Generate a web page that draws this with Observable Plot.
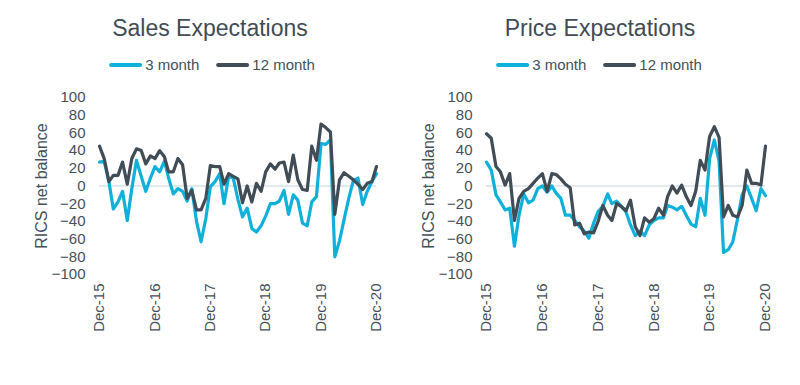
<!DOCTYPE html>
<html>
<head>
<meta charset="utf-8">
<script src="https://cdn.jsdelivr.net/npm/d3@7"></script>
<script src="https://cdn.jsdelivr.net/npm/@observablehq/plot@0.6"></script>
<style>
  html, body { margin: 0; padding: 0; background: #ffffff; }
  #root { position: relative; width: 800px; height: 385px; overflow: hidden; font-family: "Liberation Sans", Arial, sans-serif; color: #44505a; }
  .title { position: absolute; font-size: 23px; line-height: 23px; white-space: nowrap; transform: translateX(-50%); color: #3f4b55; }
  .legend { position: absolute; display: flex; align-items: center; font-size: 15px; line-height: 15px; transform: translateX(-50%); white-space: nowrap; color: #44505a; }
  .sw { display: inline-block; width: 33px; height: 4px; border-radius: 2px; margin-right: 3px; }
  .item { display: flex; align-items: center; }
  .ylabel { position: absolute; font-size: 16px; line-height: 16px; white-space: nowrap; transform: translate(-50%, -50%) rotate(-90deg); color: #44505a; }
  .chart { position: absolute; }
</style>
</head>
<body>
<div id="root"></div>
<script>
// ---- data ----
const seriesNames = ["3 month", "12 month"];
const panelTitles = ["Sales Expectations", "Price Expectations"];
const yAxisLabel = "RICS net balance";
const startMonth = "2015-12";   // first monthly observation (Dec-15)
const endMonth = "2020-12";     // last monthly observation (Dec-20)
const xTickMonths = ["2015-12", "2016-12", "2017-12", "2018-12", "2019-12", "2020-12"];
const yTicks = [-100, -80, -60, -40, -20, 0, 20, 40, 60, 80, 100];

const salesThreeMonth = [27, 28, 5, -26, -18, -6, -39, -3, 29, 11,
  -6, 9, 22, 16, 28, 9, -9, -3, -6, -17,
  -3, -40, -63, -37, -1, 5, 14, -20, 11, 9,
  -15, -35, -25, -48, -52, -45, -34, -20, -20, -17,
  -5, -32, -10, -16, -42, -45, -18, -12, 48, 47,
  52, -80, -62, -38, -14, 6, 9, -21, -6, 5,
  14];
const salesTwelveMonth = [45, 31, 5, 12, 12, 27, 2, 31, 42, 40,
  25, 34, 31, 40, 33, 16, 16, 31, 24, -14,
  -5, -27, -27, -14, 23, 22, 22, 2, 14, 11,
  8, -19, 0, -18, 3, -6, 16, 25, 19, 26,
  27, 5, 35, 7, -4, -5, 45, 29, 70, 66,
  61, -32, 7, 15, 11, 7, 2, -4, 3, 5,
  22];
const priceThreeMonth = [27, 18, -10, -18, -27, -25, -68, -33, -9, -19,
  -16, -3, 0, -7, 0, -8, -14, -33, -33, -39,
  -46, -51, -59, -42, -29, -23, -9, -20, -17, -23,
  -29, -44, -56, -51, -56, -44, -39, -36, -36, -22,
  -24, -27, -23, -33, -43, -46, -14, -33, 31, 52,
  28, -75, -72, -63, -37, -10, 0, -14, -28, -3,
  -11];
const priceTwelveMonth = [59, 54, 22, 16, 1, 14, -39, -14, -6, -3,
  3, 9, 14, -6, 14, 13, 8, 2, -2, -44,
  -42, -54, -52, -53, -40, -22, -33, -39, -20, -23,
  -28, -16, -46, -56, -36, -41, -37, -25, -33, -12,
  0, -8, 1, -12, -22, -6, 29, 18, 56, 67,
  55, -35, -22, -33, -35, -22, 18, 3, 3, 1,
  45];

// ---- styling ----
const colors = ["#0fb0da", "#404c56"];
const textColor = "#44505a";
const fontFamily = '"Liberation Sans", Arial, sans-serif';

const parseMonth = d3.utcParse("%Y-%m");
const months = d3.utcMonth.range(parseMonth(startMonth), d3.utcMonth.offset(parseMonth(endMonth), 1));
const xTicks = xTickMonths.map(parseMonth);

const panels = [
  {title: panelTitles[0], series: [salesThreeMonth, salesTwelveMonth], left: 0, titleX: 210, legendX: 212, ylabelX: 42, marginLeft: 99, marginRight: 24},
  {title: panelTitles[1], series: [priceThreeMonth, priceTwelveMonth], left: 400, titleX: 600, legendX: 599, ylabelX: 429, marginLeft: 86, marginRight: 35}
];

const root = document.getElementById("root");

for (const p of panels) {
  const t = document.createElement("div");
  t.className = "title";
  t.textContent = p.title;
  t.style.left = p.titleX + "px";
  t.style.top = "17px";
  root.appendChild(t);

  const lg = document.createElement("div");
  lg.className = "legend";
  lg.style.left = p.legendX + "px";
  lg.style.top = "57px";
  seriesNames.forEach((name, i) => {
    const item = document.createElement("div");
    item.className = "item";
    if (i > 0) item.style.marginLeft = "17px";
    const sw = document.createElement("span");
    sw.className = "sw";
    sw.style.background = colors[i];
    const tx = document.createElement("span");
    tx.textContent = name;
    item.appendChild(sw);
    item.appendChild(tx);
    lg.appendChild(item);
  });
  root.appendChild(lg);

  const yl = document.createElement("div");
  yl.className = "ylabel";
  yl.textContent = yAxisLabel;
  yl.style.left = p.ylabelX + "px";
  yl.style.top = "186px";
  root.appendChild(yl);

  const data = [];
  p.series.forEach((vals, si) => {
    vals.forEach((v, i) => data.push({date: months[i], value: v, series: seriesNames[si]}));
  });

  const chart = Plot.plot({
    width: 400,
    height: 249,
    marginTop: 12,
    marginBottom: 60,
    marginLeft: p.marginLeft,
    marginRight: p.marginRight,
    style: {fontSize: "15px", fontFamily: fontFamily, color: textColor, background: "transparent", overflow: "visible"},
    x: {type: "utc", domain: [months[0], months[months.length - 1]], ticks: xTicks, tickFormat: d3.utcFormat("%b-%y"), tickRotate: -90, tickSize: 0, tickPadding: 9, label: null},
    y: {domain: [-100, 100], ticks: yTicks, tickSize: 0, tickPadding: 14, label: null},
    color: {domain: seriesNames, range: colors},
    marks: [
      Plot.ruleY([0], {stroke: "#e3e8ed", strokeWidth: 2}),
      Plot.line(data.filter(d => d.series === seriesNames[0]), {x: "date", y: "value", stroke: "series", strokeWidth: 3.2, strokeLinejoin: "round"}),
      Plot.line(data.filter(d => d.series === seriesNames[1]), {x: "date", y: "value", stroke: "series", strokeWidth: 3.2, strokeLinejoin: "round"})
    ]
  });
  chart.classList.add("chart");
  chart.style.left = p.left + "px";
  chart.style.top = "85px";
  root.appendChild(chart);
}
</script>
</body>
</html>
